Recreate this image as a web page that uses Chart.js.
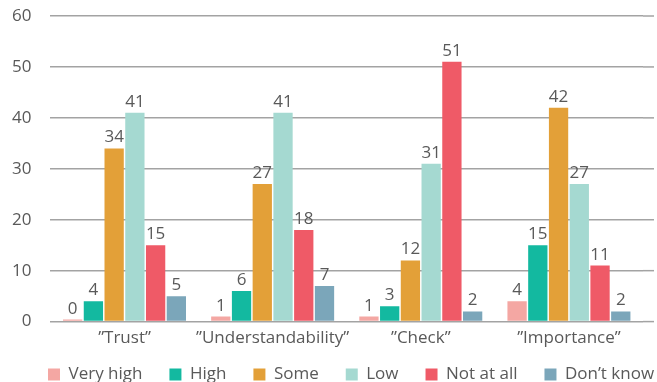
<!DOCTYPE html>
<html>
<head>
<meta charset="utf-8">
<script src="https://cdn.jsdelivr.net/npm/chart.js@4.4.0/dist/chart.umd.min.js"></script>
<style>
  html, body { margin: 0; padding: 0; background: #fff; }
  #wrap { width: 657px; height: 382px; position: relative; }
</style>
</head>
<body>
<div id="wrap"><canvas id="chart"></canvas></div>
<script>
// categories and answers
const categories = ["”Trust”", "”Understandability”", "”Check”", "”Importance”"];
const veryHigh = [0, 1, 1, 4];
const high = [4, 6, 3, 15];
const some = [34, 27, 12, 42];
const low = [41, 41, 31, 27];
const notAtAll = [15, 18, 51, 11];
const dontKnow = [5, 7, 2, 2];
const yTicks = [0, 10, 20, 30, 40, 50, 60];

const textColor = '#595959';
const gridColor = '#a3a3a3';
const fontFamily = '"Open Sans", "Noto Sans", sans-serif';
const fontSize = 17;

function ds(label, data, color) {
  return {
    label: label,
    data: data,
    backgroundColor: color,
    borderWidth: 0,
    minBarLength: 2,
    categoryPercentage: 0.84,
    barPercentage: 0.93
  };
}

// value labels above bars
const valueLabels = {
  id: 'valueLabels',
  afterDatasetsDraw(chart) {
    const ctx = chart.ctx;
    ctx.save();
    ctx.font = fontSize + 'px ' + fontFamily;
    ctx.fillStyle = textColor;
    ctx.textAlign = 'center';
    ctx.textBaseline = 'alphabetic';
    chart.data.datasets.forEach((d, i) => {
      chart.getDatasetMeta(i).data.forEach((bar, j) => {
        ctx.fillText(String(d.data[j]), bar.x, bar.y - 6);
      });
    });
    ctx.restore();
  }
};

// gridlines run a bit past the last category in the original
const gridExtend = {
  id: 'gridExtend',
  beforeDatasetsDraw(chart) {
    const ctx = chart.ctx;
    const y = chart.scales.y;
    const area = chart.chartArea;
    ctx.save();
    ctx.strokeStyle = gridColor;
    ctx.lineWidth = 1.5;
    y.ticks.forEach(t => {
      const py = y.getPixelForValue(t.value);
      ctx.beginPath();
      ctx.moveTo(area.right, py);
      ctx.lineTo(area.right + 11, py);
      ctx.stroke();
    });
    ctx.restore();
  }
};

// compact legend row with wide spacing, nudged into place
const legendFit = {
  id: 'legendFit',
  beforeUpdate(chart) {
    const lg = chart.legend;
    if (lg && !lg._patched) {
      const orig = lg.fit;
      lg.fit = function () { orig.call(this); this.height = 28; };
      lg._patched = true;
    }
  },
  afterLayout(chart) {
    const lg = chart.legend;
    const pad = lg.options.labels.padding;
    lg.top -= 15;
    lg.left = 48 - pad;   // first swatch starts here
    lg.right = 900;       // keep everything on one row
  }
};

new Chart(document.getElementById('chart'), {
  type: 'bar',
  data: {
    labels: categories,
    datasets: [
      ds('Very high', veryHigh, '#f4a7a3'),
      ds('High', high, '#13b9a0'),
      ds('Some', some, '#e3a038'),
      ds('Low', low, '#a5d9d1'),
      ds('Not at all', notAtAll, '#ef5a67'),
      ds('Don’t know', dontKnow, '#7ba6ba')
    ]
  },
  options: {
    responsive: true,
    maintainAspectRatio: false,
    animation: false,
    layout: { padding: { top: 16, right: 0, left: 8, bottom: 0 } },
    plugins: {
      legend: {
        position: 'bottom',
        align: 'start',
        labels: {
          boxWidth: 12,
          boxHeight: 12,
          padding: 27,
          color: textColor,
          font: { size: fontSize, family: fontFamily }
        }
      },
      tooltip: { enabled: false }
    },
    scales: {
      x: {
        grid: { display: false, drawTicks: false },
        border: { display: false },
        ticks: {
          color: textColor,
          padding: 6,
          maxRotation: 0,
          minRotation: 0,
          autoSkip: false,
          font: { size: fontSize, family: fontFamily }
        }
      },
      y: {
        min: 0,
        max: 60,
        afterBuildTicks: axis => { axis.ticks = yTicks.map(v => ({ value: v })); },
        grid: { color: gridColor, lineWidth: 1.5, drawTicks: true, tickLength: 15, tickColor: 'rgba(0,0,0,0)' },
        border: { display: false },
        ticks: {
          color: textColor,
          padding: 4,
          font: { size: fontSize, family: fontFamily }
        }
      },
      // empty strip on the right so the categories end before the gridlines do
      yRight: {
        position: 'right',
        grid: { display: false },
        border: { display: false },
        ticks: { display: false },
        afterFit: axis => { axis.width = 14; }
      }
    }
  },
  plugins: [valueLabels, gridExtend, legendFit]
});
</script>
</body>
</html>
